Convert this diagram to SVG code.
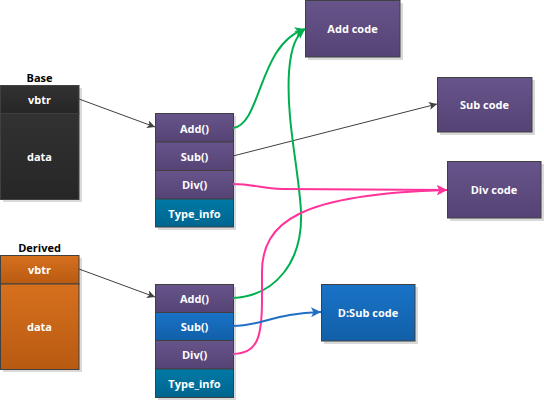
<svg xmlns="http://www.w3.org/2000/svg" width="544" height="400" viewBox="0 0 544 400">
<defs>
<linearGradient id="gDark" x1="0" y1="0" x2="0" y2="1"><stop offset="0" stop-color="#323232"/><stop offset="1" stop-color="#262626"/></linearGradient>
<linearGradient id="gOrange" x1="0" y1="0" x2="0" y2="1"><stop offset="0" stop-color="#d6701d"/><stop offset="1" stop-color="#b85a12"/></linearGradient>
<linearGradient id="gPurple" x1="0" y1="0" x2="0" y2="1"><stop offset="0" stop-color="#67548a"/><stop offset="1" stop-color="#554375"/></linearGradient>
<linearGradient id="gBlue" x1="0" y1="0" x2="0" y2="1"><stop offset="0" stop-color="#1a73c8"/><stop offset="1" stop-color="#115fa8"/></linearGradient>
<linearGradient id="gTeal" x1="0" y1="0" x2="0" y2="1"><stop offset="0" stop-color="#0079a6"/><stop offset="1" stop-color="#00658f"/></linearGradient>
<marker id="aDark" viewBox="0 0 10 10" refX="10" refY="5" markerWidth="10" markerHeight="8" markerUnits="userSpaceOnUse" orient="auto"><path d="M0,0 L10,5 L0,10 L2.5,5 Z" fill="#404040"/></marker>
<marker id="aGreen" viewBox="0 0 10 10" refX="10" refY="5" markerWidth="11" markerHeight="10" markerUnits="userSpaceOnUse" orient="auto"><path d="M0,0 L10,5 L0,10 L2.5,5 Z" fill="#00b050"/></marker>
<marker id="aPink" viewBox="0 0 10 10" refX="10" refY="5" markerWidth="11" markerHeight="10" markerUnits="userSpaceOnUse" orient="auto"><path d="M0,0 L10,5 L0,10 L2.5,5 Z" fill="#ff3399"/></marker>
<marker id="aBlue" viewBox="0 0 10 10" refX="10" refY="5" markerWidth="11" markerHeight="10" markerUnits="userSpaceOnUse" orient="auto"><path d="M0,0 L10,5 L0,10 L2.5,5 Z" fill="#1f6fc5"/></marker>
</defs>
<style>
.box{stroke:#404040;stroke-width:1}
.sh{fill:#d9d9d9}
.t{font-family:"Open Sans","DejaVu Sans",sans-serif;font-size:11px;font-weight:bold;fill:#ffffff;text-anchor:middle;dominant-baseline:central}
.lbl{font-family:"Open Sans","DejaVu Sans",sans-serif;font-size:11px;font-weight:bold;fill:#000000;text-anchor:middle;dominant-baseline:central}
.c{fill:none;stroke-width:2}
</style>
<g id="base">
<text class="lbl" x="39.5" y="77">Base</text>
<rect class="sh" x="3" y="88" width="79" height="114"/>
<rect class="box" x="0.5" y="85.5" width="78.5" height="28" fill="url(#gDark)"/>
<rect class="box" x="0.5" y="113.5" width="78.5" height="86" fill="url(#gDark)"/>
<text class="t" x="39.5" y="99.5">vbtr</text>
<text class="t" x="39.5" y="156">data</text>
</g>
<g id="derived">
<text class="lbl" x="39.5" y="247">Derived</text>
<rect class="sh" x="3" y="258" width="79" height="114"/>
<rect class="box" x="0.5" y="255.5" width="78.5" height="28.5" fill="url(#gOrange)"/>
<rect class="box" x="0.5" y="284" width="78.5" height="85.5" fill="url(#gOrange)"/>
<text class="t" x="39.5" y="269.5">vbtr</text>
<text class="t" x="39.5" y="326">data</text>
</g>
<g id="vtable-base">
<rect class="sh" x="158" y="116" width="78" height="114"/>
<rect class="box" x="155.5" y="113.5" width="78" height="28.5" fill="url(#gPurple)"/>
<rect class="box" x="155.5" y="142" width="78" height="28.5" fill="url(#gPurple)"/>
<rect class="box" x="155.5" y="170.5" width="78" height="28.5" fill="url(#gPurple)"/>
<rect class="box" x="155.5" y="199" width="78" height="28" fill="url(#gTeal)"/>
<text class="t" x="194.5" y="128">Add()</text>
<text class="t" x="194.5" y="156">Sub()</text>
<text class="t" x="194.5" y="184.5">Div()</text>
<text class="t" x="194.5" y="213">Type_info</text>
</g>
<g id="vtable-derived">
<rect class="sh" x="158" y="287" width="78" height="113"/>
<rect class="box" x="155.5" y="284.5" width="78" height="28" fill="url(#gPurple)"/>
<rect class="box" x="155.5" y="312.5" width="78" height="28" fill="url(#gBlue)"/>
<rect class="box" x="155.5" y="340.5" width="78" height="28.5" fill="url(#gPurple)"/>
<rect class="box" x="155.5" y="369" width="78" height="28.5" fill="url(#gTeal)"/>
<text class="t" x="194.5" y="298">Add()</text>
<text class="t" x="194.5" y="326">Sub()</text>
<text class="t" x="194.5" y="354.5">Div()</text>
<text class="t" x="194.5" y="383">Type_info</text>
</g>
<g id="add-code">
<rect class="sh" x="308" y="3" width="95" height="57"/>
<rect class="box" x="305.5" y="0.5" width="94.5" height="56.5" fill="url(#gPurple)"/>
<text class="t" x="352.5" y="28.5">Add code</text>
</g>
<g id="sub-code">
<rect class="sh" x="440" y="80" width="95" height="55"/>
<rect class="box" x="437.5" y="77.5" width="94.5" height="54.5" fill="url(#gPurple)"/>
<text class="t" x="484.5" y="104.5">Sub code</text>
</g>
<g id="div-code">
<rect class="sh" x="450" y="164" width="94" height="57"/>
<rect class="box" x="447.5" y="161.5" width="93.5" height="56.5" fill="url(#gPurple)"/>
<text class="t" x="494" y="189.5">Div code</text>
</g>
<g id="dsub-code">
<rect class="sh" x="324" y="287" width="94" height="57"/>
<rect class="box" x="321.5" y="284.5" width="93.5" height="56.5" fill="url(#gBlue)"/>
<text class="t" x="368" y="312.5">D:Sub code</text>
</g>
<g id="connectors">
<line x1="79" y1="99" x2="155" y2="127" stroke="#404040" stroke-width="1" marker-end="url(#aDark)"/>
<line x1="79" y1="269" x2="155" y2="297" stroke="#404040" stroke-width="1" marker-end="url(#aDark)"/>
<line x1="233" y1="156" x2="437" y2="104" stroke="#404040" stroke-width="1" marker-end="url(#aDark)"/>
<path class="c" d="M233,128 C262,124 258,44 305,29" stroke="#00b050" marker-end="url(#aGreen)"/>
<path class="c" d="M233,298 C275,296 303,262 301,212 C299,170 286,120 289,72 C291,45 297,35 305,29" stroke="#00b050" marker-end="url(#aGreen)"/>
<path class="c" d="M233,184 C255,184 262,189 282,189 L447,190" stroke="#ff3399" marker-end="url(#aPink)"/>
<path class="c" d="M233,354 C258,354 262,336 262,300 L262,272 C262,222 300,194 447,190" stroke="#ff3399" marker-end="url(#aPink)"/>
<path class="c" d="M233,326 C262,326 275,313 321,312" stroke="#1f6fc5" marker-end="url(#aBlue)"/>
</g>
</svg>
